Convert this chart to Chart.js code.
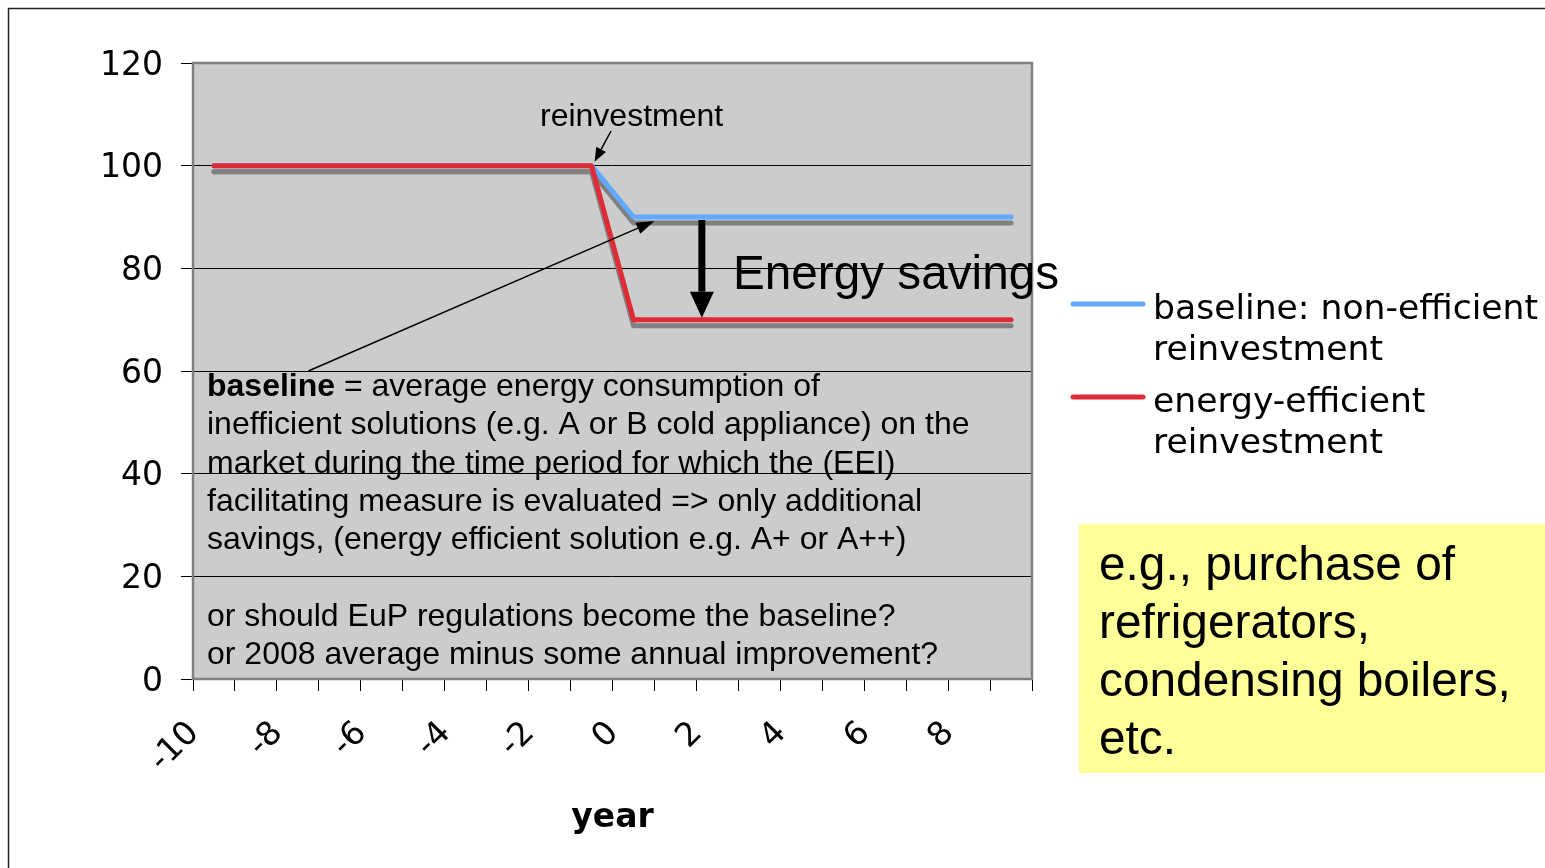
<!DOCTYPE html>
<html>
<head>
<meta charset="utf-8">
<script src="https://cdn.jsdelivr.net/npm/chart.js@4.4.1/dist/chart.umd.min.js"></script>
<style>
    html, body { margin: 0; padding: 0; background: #fff; }
    canvas { display: block; }
</style>
</head>
<body>
<canvas class="myChart" width="1545" height="868"></canvas>
<script>
// data
var years = [-10, -9, -8, -7, -6, -5, -4, -3, -2, -1, 0, 1, 2, 3, 4, 5, 6, 7, 8, 9];
var baselineValues = [100, 100, 100, 100, 100, 100, 100, 100, 100, 100, 90, 90, 90, 90, 90, 90, 90, 90, 90, 90];
var efficientValues = [100, 100, 100, 100, 100, 100, 100, 100, 100, 100, 70, 70, 70, 70, 70, 70, 70, 70, 70, 70];
var yMin = 0, yMax = 120, yStep = 20;

var seriesNames = ['baseline: non-efficient reinvestment', 'energy-efficient reinvestment'];
var legendLines = [['baseline: non-efficient', 'reinvestment'], ['energy-efficient', 'reinvestment']];
var noteLines = [
    ' = average energy consumption of',
    'inefficient solutions (e.g. A or B cold appliance) on the',
    'market during the time period for which the (EEI)',
    'facilitating measure is evaluated => only additional',
    'savings, (energy efficient solution e.g. A+ or A++)',
    '',
    'or should EuP regulations become the baseline?',
    'or 2008 average minus some annual improvement?'
];
var boxLines = ['e.g., purchase of', 'refrigerators,', 'condensing boilers,', 'etc.'];

var ARIAL = '"Liberation Sans", Arial, sans-serif';
var VERDANA = '"DejaVu Sans", Verdana, sans-serif';

function arrow(c, x1, y1, x2, y2, w, headLen, headW) {
    var ang = Math.atan2(y2 - y1, x2 - x1);
    var bx = x2 - Math.cos(ang) * headLen, by = y2 - Math.sin(ang) * headLen;
    c.lineWidth = w;
    c.lineCap = 'butt';
    c.beginPath();
    c.moveTo(x1, y1);
    c.lineTo(bx, by);
    c.stroke();
    c.beginPath();
    c.moveTo(x2, y2);
    c.lineTo(bx + Math.sin(ang) * headW / 2, by - Math.cos(ang) * headW / 2);
    c.lineTo(bx - Math.sin(ang) * headW / 2, by + Math.cos(ang) * headW / 2);
    c.closePath();
    c.fill();
}

var deco = {
    id: 'deco',
    beforeDraw: function (chart) {
        var c = chart.ctx, a = chart.chartArea;
        c.save();
        c.fillStyle = '#cccccc'; // fond de la zone du graphique
        c.fillRect(a.left, a.top, a.right - a.left, a.bottom - a.top);
        // cadre extérieur
        c.strokeStyle = '#222';
        c.lineWidth = 1.5;
        c.beginPath();
        c.moveTo(8.5, 868);
        c.lineTo(8.5, 8.5);
        c.lineTo(1545, 8.5);
        c.stroke();
        c.restore();
    },
    beforeDatasetsDraw: function (chart) {
        var c = chart.ctx, a = chart.chartArea;
        c.save();
        c.strokeStyle = '#808080';
        c.lineWidth = 2.5;
        c.strokeRect(a.left, a.top, a.right - a.left, a.bottom - a.top);
        c.restore();
    },
    beforeDatasetDraw: function (chart) {
        var c = chart.ctx;
        c.save();
        c.shadowColor = '#808080'; // ombre grise sous les courbes
        c.shadowBlur = 0;
        c.shadowOffsetX = 0;
        c.shadowOffsetY = 6;
    },
    afterDatasetDraw: function (chart) {
        chart.ctx.restore();
    },
    afterDraw: function (chart) {
        var c = chart.ctx;
        var xs = chart.scales.x, ys = chart.scales.y;
        var step = xs.getPixelForValue(1) - xs.getPixelForValue(0);
        function xAt(year) { return xs.getPixelForValue(0) + (year - years[0]) * step; }
        c.save();
        c.fillStyle = '#000';
        c.strokeStyle = '#000';
        c.textBaseline = 'alphabetic';

        // reinvestment
        c.font = '32px ' + ARIAL;
        c.fillText('reinvestment', 540, 126);
        var rx = xAt(-1), ry = ys.getPixelForValue(100);
        arrow(c, 611, 131, rx + 3, ry - 4, 1.5, 14, 11);

        // Energy savings
        var sx = xAt(1.63);
        arrow(c, sx, ys.getPixelForValue(90) + 3, sx, ys.getPixelForValue(70) - 2, 7, 26, 24);
        c.font = '47.7px ' + ARIAL;
        c.fillText('Energy savings', 733, 289);

        // baseline note
        arrow(c, xAt(-7.75), ys.getPixelForValue(60), xAt(0.5), ys.getPixelForValue(90) + 4, 1.5, 18, 12);
        var lh = 38.3, ty = 396;
        c.font = 'bold 32px ' + ARIAL;
        c.fillText('baseline', 207, ty);
        var bw = c.measureText('baseline').width;
        c.font = '32px ' + ARIAL;
        c.fillText(noteLines[0], 207 + bw, ty);
        for (var i = 1; i < noteLines.length; i++) {
            c.fillText(noteLines[i], 207, ty + i * lh);
        }

        // légende
        var legY = [304, 397];
        chart.data.datasets.forEach(function (ds, k) {
            c.strokeStyle = ds.borderColor;
            c.lineWidth = 5;
            c.lineCap = 'round';
            c.beginPath();
            c.moveTo(1073, legY[k]);
            c.lineTo(1143, legY[k]);
            c.stroke();
            c.font = '34.6px ' + VERDANA;
            c.fillText(legendLines[k][0], 1153, legY[k] + 15);
            c.fillText(legendLines[k][1], 1153, legY[k] + 56);
        });

        // encadré jaune
        c.fillStyle = '#ffff99';
        c.fillRect(1079, 524, 466, 249);
        c.fillStyle = '#000';
        c.font = '47.8px ' + ARIAL;
        boxLines.forEach(function (t, k) {
            c.fillText(t, 1099, 580 + k * 58);
        });
        c.restore();
    }
};

document.addEventListener('DOMContentLoaded', function () {
    var ctx = document.querySelector('.myChart');
    var myChart = new Chart(ctx, {
        type: 'line',
        data: {
            labels: years,
            datasets: [{
                label: seriesNames[0],
                data: baselineValues,
                borderColor: '#63a9ff',
                backgroundColor: '#63a9ff',
                borderWidth: 5,
                pointRadius: 0,
                borderCapStyle: 'round',
                borderJoinStyle: 'round',
                tension: 0,
                order: 2
            }, {
                label: seriesNames[1],
                data: efficientValues,
                borderColor: '#df2b35',
                backgroundColor: '#df2b35',
                borderWidth: 5,
                pointRadius: 0,
                borderCapStyle: 'round',
                borderJoinStyle: 'round',
                tension: 0,
                order: 1
            }]
        },
        options: {
            responsive: false,
            animation: false,
            devicePixelRatio: 1,
            layout: {
                padding: { left: 0, top: 63, right: 513, bottom: 0 }
            },
            scales: {
                x: {
                    offset: true,
                    afterFit: function (scale) { scale.height = 189; },
                    grid: {
                        offset: true,
                        drawOnChartArea: false,
                        color: '#000',
                        tickLength: 12
                    },
                    border: { display: false },
                    ticks: {
                        autoSkip: false,
                        minRotation: 45,
                        maxRotation: 45,
                        padding: 23,
                        labelOffset: -20,
                        color: '#000',
                        font: { family: VERDANA, size: 33 },
                        callback: function (value, index) {
                            return index % 2 === 0 ? String(years[index]) : '';
                        }
                    },
                    title: {
                        display: true,
                        text: 'year',
                        color: '#000',
                        font: { family: VERDANA, size: 33, weight: 'bold' },
                        padding: { top: 0, bottom: 30 }
                    }
                },
                y: {
                    min: yMin,
                    max: yMax,
                    afterFit: function (scale) { scale.width = 193; },
                    grid: {
                        color: function (c) {
                            return (c.tick && (c.tick.value === yMin || c.tick.value === yMax)) ? 'rgba(0,0,0,0)' : '#000';
                        },
                        tickColor: '#000',
                        tickLength: 12,
                        lineWidth: 1
                    },
                    border: { display: false },
                    ticks: {
                        stepSize: yStep,
                        padding: 18,
                        labelOffset: 3,
                        color: '#000',
                        font: { family: VERDANA, size: 33 }
                    }
                }
            },
            plugins: {
                legend: { display: false },
                tooltip: { enabled: false }
            }
        },
        plugins: [deco]
    });
});
</script>
</body>
</html>
